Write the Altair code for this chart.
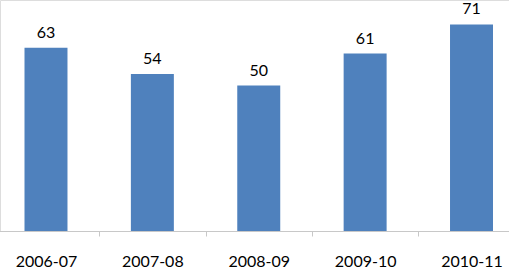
import altair as alt
import pandas as pd

years = ["2006-07", "2007-08", "2008-09", "2009-10", "2010-11"]
values = [63, 54, 50, 61, 71]

df = pd.DataFrame({"year": years, "value": values})

FONT = "Lato"
BLUE = "#4f81bd"
GRAY = "#c8c8c8"

x = alt.X(
    "year:N",
    sort=years,
    title=None,
    scale=alt.Scale(range=[-7.2, 524.7], paddingInner=0, paddingOuter=0),
    axis=alt.Axis(
        labelAngle=0,
        labelFont=FONT,
        labelFontSize=16,
        labelColor="#000000",
        labelPadding=17,
        tickBand="extent",
        tickSize=5,
        tickColor=GRAY,
        domainColor=GRAY,
        grid=False,
    ),
)
y = alt.Y(
    "value:Q",
    title=None,
    scale=alt.Scale(domain=[0, 79.4], nice=False, zero=True),
    axis=None,
)

base = alt.Chart(df).encode(x=x, y=y)
bars = base.mark_bar(color=BLUE, width={"band": 0.404})
labels = base.mark_text(
    font=FONT, fontSize=16, color="#000000", baseline="alphabetic", dy=-10
).encode(text="value:Q")

chart = (
    alt.layer(bars, labels)
    .properties(
        width=509,
        height=231,
        autosize=alt.AutoSizeParams(type="none"),
        padding={"left": 0, "right": 0, "top": 0, "bottom": 37},
    )
    .configure_view(stroke=None)
    .configure(background="white")
)

chart.save("out.html", embed_options={"renderer": "svg", "actions": False})
